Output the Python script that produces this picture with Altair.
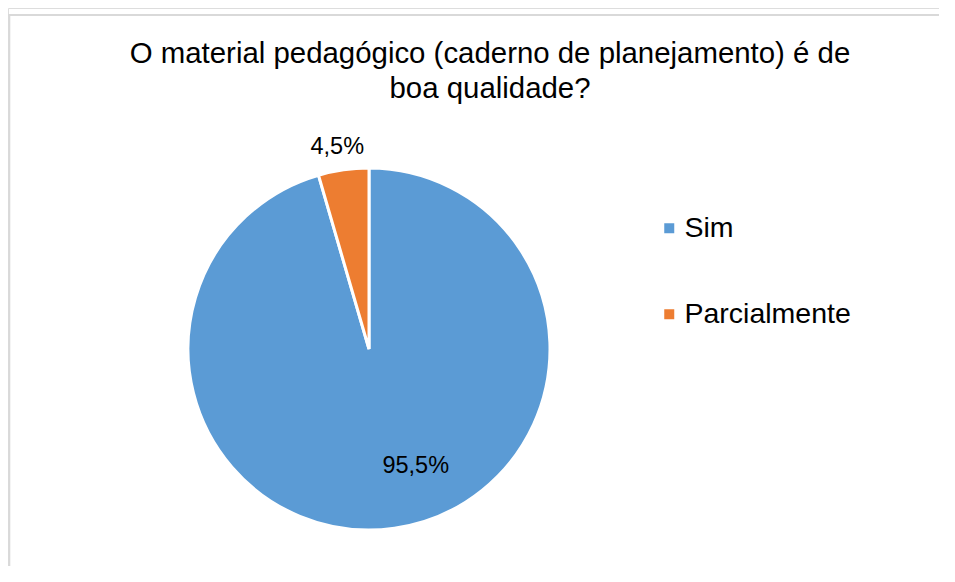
import altair as alt
import pandas as pd

categories = ["Sim", "Parcialmente"]
values = [95.5, 4.5]
colors = ["#5B9BD5", "#ED7D31"]
title_lines = ["O material pedagógico (caderno de planejamento) é de", "boa qualidade?"]

df = pd.DataFrame({"cat": categories, "value": values})

FONT = "Liberation Sans"
CX, CY = 361, 341
cat_list = "['" + "','".join(categories) + "']"

base = alt.Chart(df).transform_calculate(
    idx=f"indexof({cat_list}, datum.cat)",
    label="replace(format(datum.value, '.1f'), '.', ',') + '%'",
)

arc = base.mark_arc(outerRadius=181, stroke="white", strokeWidth=3).encode(
    theta=alt.Theta("value:Q", stack=True),
    color=alt.Color(
        "cat:N",
        scale=alt.Scale(domain=categories, range=colors),
        sort=categories,
        legend=alt.Legend(
            title=None,
            orient="none",
            legendX=647,
            legendY=206,
            symbolType="square",
            symbolSize=100,
            symbolStrokeWidth=0,
            labelFontSize=28.5,
            labelFont=FONT,
            labelColor="#000000",
            labelOffset=1,
            labelLimit=0,
            rowPadding=57,
            padding=0,
        ),
    ),
    order=alt.Order("idx:Q"),
    x=alt.value(CX),
    y=alt.value(CY),
)

stacked = base.transform_stack(
    stack="value", groupby=[], as_=["v0", "v1"], sort=[alt.SortField("idx")]
).transform_calculate(mid="(datum.v0 + datum.v1) / 2")

theta_scale = alt.Scale(domain=[0, 100])

lab_sim = stacked.transform_filter(alt.datum.cat == "Sim").mark_text(
    radius=126, dx=29, dy=-8, fontSize=23.5, font=FONT, color="#000000"
).encode(
    theta=alt.Theta("mid:Q", scale=theta_scale),
    text="label:N",
    x=alt.value(CX),
    y=alt.value(CY),
)

lab_par = stacked.transform_filter(alt.datum.cat == "Parcialmente").mark_text(
    radius=204, dx=-3, fontSize=23.5, font=FONT, color="#000000"
).encode(
    theta=alt.Theta("mid:Q", scale=theta_scale),
    text="label:N",
    x=alt.value(CX),
    y=alt.value(CY),
)

title_df = pd.DataFrame({"t": ["\n".join(title_lines)]})
title = alt.Chart(title_df).mark_text(
    fontSize=29.4, font=FONT, color="#000000", lineBreak="\n", lineHeight=35,
    baseline="alphabetic", align="center",
).encode(text="t:N", x=alt.value(482), y=alt.value(55))

border_top = alt.Chart(title_df).mark_rule(color="#d9d9d9", strokeWidth=2).encode(
    x=alt.value(0.3), x2=alt.value(931), y=alt.value(7)
)
border_left = alt.Chart(title_df).mark_rule(color="#d9d9d9", strokeWidth=2).encode(
    x=alt.value(1.3), y=alt.value(6), y2=alt.value(558)
)

chart = alt.layer(border_top, border_left, arc, lab_sim, lab_par, title).resolve_scale(
    theta="independent"
).properties(
    width=931,
    height=558,
    autosize=alt.AutoSizeParams(type="none"),
    padding={"left": 0, "top": 0, "right": 0, "bottom": 0},
).configure_view(stroke="transparent", strokeWidth=0).configure(background="white")

chart.save("out.html", embed_options={"renderer": "svg", "actions": False})
